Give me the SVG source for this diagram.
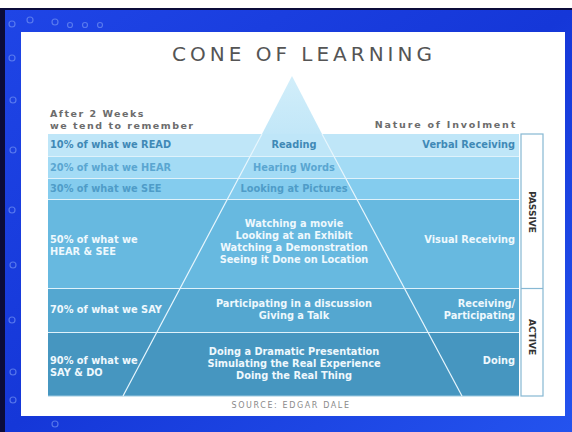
<svg xmlns="http://www.w3.org/2000/svg" width="572" height="432" viewBox="0 0 572 432">
<defs>
<linearGradient id="bg" x1="0" y1="0" x2="1" y2="1">
<stop offset="0" stop-color="#1f45e6"/>
<stop offset="0.5" stop-color="#1537d8"/>
<stop offset="1" stop-color="#2453ee"/>
</linearGradient>
<linearGradient id="tri" x1="0" y1="0" x2="0" y2="1">
<stop offset="0" stop-color="#d2eefa"/>
<stop offset="1" stop-color="#c2e7f8"/>
</linearGradient>
<style>
.b{font-family:"DejaVu Sans",Verdana,sans-serif;font-weight:bold;font-size:9.8px}
.l{text-anchor:start}
.c{text-anchor:middle}
.r{text-anchor:end}
.t1{fill:#3f89b6}
.t2{fill:#5aa6d1}
.t3{fill:#4f9cc8}
.w{fill:#eef8fd}
.g{font-family:"DejaVu Sans",Verdana,sans-serif;font-weight:bold;fill:#6c6c6c;font-size:9.5px;letter-spacing:1.5px}
.sep{stroke:#dff2fb;stroke-width:1}
.cone{stroke:#e8f6fd;stroke-width:1.2;fill:none}
.dot{fill:none;stroke:#7f9cf5;stroke-width:1.2;opacity:0.6}
</style>
</defs>
<rect x="0" y="0" width="572" height="432" fill="#ffffff"/>
<rect x="0" y="8" width="572" height="424" fill="#0b0c3a"/>
<rect x="5" y="10" width="567" height="422" fill="url(#bg)"/>
<g id="circuit">
<circle class="dot" cx="12" cy="24" r="3"/>
<circle class="dot" cx="12" cy="58" r="3"/>
<circle class="dot" cx="13" cy="100" r="3"/>
<circle class="dot" cx="13" cy="150" r="3"/>
<circle class="dot" cx="12" cy="210" r="3"/>
<circle class="dot" cx="13" cy="265" r="3"/>
<circle class="dot" cx="12" cy="320" r="3"/>
<circle class="dot" cx="13" cy="372" r="3"/>
<circle class="dot" cx="13" cy="400" r="3"/>
<circle class="dot" cx="30" cy="20" r="3"/>
<circle class="dot" cx="55" cy="22" r="3"/>
<circle class="dot" cx="70" cy="25" r="2.5"/>
<circle class="dot" cx="85" cy="25" r="2.5"/>
<circle class="dot" cx="100" cy="25" r="2.5"/>
<circle class="dot" cx="55" cy="424" r="3"/>
</g>
<rect x="21" y="32" width="544" height="384" fill="#ffffff"/>

<g id="title">
<text x="304" y="61" text-anchor="middle" style="font-family:'DejaVu Sans',Verdana,sans-serif;font-size:20px;letter-spacing:4px;fill:#555555">CONE OF LEARNING</text>
</g>
<g id="headers">
<text class="g" x="50" y="117">After 2 Weeks</text>
<text class="g" x="50" y="129">we tend to remember</text>
<text class="g" x="517" y="128" text-anchor="end" style="letter-spacing:1.8px">Nature of Involment</text>
</g>

<g id="band-read">
<rect x="48" y="134" width="471" height="22" fill="#bfe6f8"/>
<text class="b l t1" x="50" y="148">10% of what we READ</text>
<text class="b c t1" x="294" y="148">Reading</text>
<text class="b r t1" x="515" y="148">Verbal Receiving</text>
</g>
<g id="band-hear">
<rect x="48" y="156" width="471" height="22" fill="#a3dbf5"/>
<text class="b l t2" x="50" y="171">20% of what we HEAR</text>
<text class="b c t2" x="294" y="171">Hearing Words</text>
</g>
<g id="band-see">
<rect x="48" y="178" width="471" height="22" fill="#84ccee"/>
<text class="b l t3" x="50" y="192">30% of what we SEE</text>
<text class="b c t3" x="294" y="192">Looking at Pictures</text>
</g>
<g id="band-hearsee">
<rect x="48" y="200" width="471" height="89" fill="#67b9e0"/>
<text class="b l w" x="50" y="243">50% of what we</text>
<text class="b l w" x="50" y="255">HEAR &amp; SEE</text>
<text class="b c w" x="294" y="227">Watching a movie</text>
<text class="b c w" x="294" y="239">Looking at an Exhibit</text>
<text class="b c w" x="294" y="251">Watching a Demonstration</text>
<text class="b c w" x="294" y="263">Seeing it Done on Location</text>
<text class="b r w" x="515" y="243">Visual Receiving</text>
</g>
<g id="band-say">
<rect x="48" y="289" width="471" height="44" fill="#54a7d0"/>
<text class="b l w" x="50" y="313">70% of what we SAY</text>
<text class="b c w" x="294" y="307">Participating in a discussion</text>
<text class="b c w" x="294" y="319">Giving a Talk</text>
<text class="b r w" x="515" y="307">Receiving/</text>
<text class="b r w" x="515" y="319">Participating</text>
</g>
<g id="band-do">
<rect x="48" y="333" width="471" height="63" fill="#4696c0"/>
<text class="b l w" x="50" y="364">90% of what we</text>
<text class="b l w" x="50" y="376">SAY &amp; DO</text>
<text class="b c w" x="294" y="355">Doing a Dramatic Presentation</text>
<text class="b c w" x="294" y="367">Simulating the Real Experience</text>
<text class="b c w" x="294" y="379">Doing the Real Thing</text>
<text class="b r w" x="515" y="364">Doing</text>
</g>

<g id="connectors">
<line class="sep" x1="48" y1="156.5" x2="519" y2="156.5"/>
<line class="sep" x1="48" y1="178.5" x2="519" y2="178.5"/>
<line class="sep" x1="48" y1="199.5" x2="519" y2="199.5"/>
<line class="sep" x1="48" y1="288.5" x2="519" y2="288.5"/>
<line class="sep" x1="48" y1="332.5" x2="519" y2="332.5"/>
<line class="sep" x1="48" y1="396" x2="519" y2="396" style="stroke:#9cc9e0"/>
</g>

<g id="cone">
<polygon points="292,76 262,134 322,134" fill="url(#tri)"/>
<line class="cone" x1="262" y1="134" x2="123" y2="396"/>
<line class="cone" x1="322" y1="134" x2="462" y2="396"/>
</g>

<g id="mode-box">
<rect x="521" y="134" width="22" height="262" fill="#ffffff" stroke="#86b8d3" stroke-width="1.2"/>
<line x1="521" y1="288.5" x2="543" y2="288.5" stroke="#86b8d3" stroke-width="1.2"/>
<text class="b" x="0" y="0" text-anchor="middle" fill="#333333" style="font-size:9px" transform="translate(529,212) rotate(90)">PASSIVE</text>
<text class="b" x="0" y="0" text-anchor="middle" fill="#333333" style="font-size:9px" transform="translate(529,337) rotate(90)">ACTIVE</text>
</g>

<g id="source">
<text x="291" y="408" text-anchor="middle" style="font-family:'DejaVu Sans',Verdana,sans-serif;font-size:8px;letter-spacing:1.6px;fill:#8a8a8a">SOURCE: EDGAR DALE</text>
</g>
</svg>
